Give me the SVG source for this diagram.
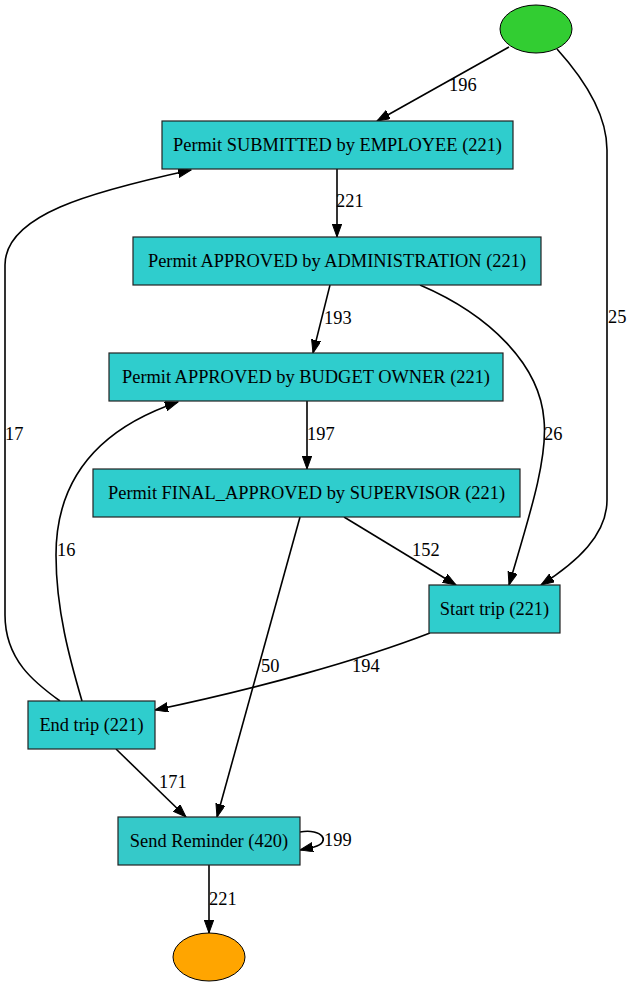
<svg xmlns="http://www.w3.org/2000/svg" width="632" height="987" viewBox="0 0 632 987">
<style>
text{font-family:"Liberation Serif","Times New Roman",serif;font-size:18.4px;fill:#000}
.n text{text-anchor:middle}
.box{fill:#2fcdcd;stroke:#222;stroke-width:1.2}
.box2{fill:#35c9c9;stroke:#222;stroke-width:1.2}
.e path{fill:none;stroke:#000;stroke-width:1.6}
</style>
<defs>
<marker id="ah" markerUnits="userSpaceOnUse" markerWidth="14" markerHeight="10" refX="13" refY="4.7" orient="auto">
<path d="M0,0 L13,4.7 L0,9.4 z" fill="#000" stroke="#000" stroke-width="1"/>
</marker>
</defs>
<rect width="632" height="987" fill="#fff"/>
<g id="edges" class="e">
<path d="M509,47 L377,121" marker-end="url(#ah)"/>
<text x="449" y="91">196</text>
<path d="M557,49 C585,80 607,115 607,150 L607,500 C607,535 577,562 541,585" marker-end="url(#ah)"/>
<text x="608" y="323">25</text>
<path d="M337,169 L337,237" marker-end="url(#ah)"/>
<text x="336" y="207">221</text>
<path d="M330,285 L313,353" marker-end="url(#ah)"/>
<text x="324" y="324">193</text>
<path d="M420,285 C490,315 540,365 544,420 C548,460 528,520 509,585" marker-end="url(#ah)"/>
<text x="544" y="440">26</text>
<path d="M307,401 L307,469" marker-end="url(#ah)"/>
<text x="307" y="440">197</text>
<path d="M344,517 L456,585" marker-end="url(#ah)"/>
<text x="412" y="556">152</text>
<path d="M300,517 L217,817" marker-end="url(#ah)"/>
<text x="261" y="672">50</text>
<path d="M430,633 C360,660 260,688 155,710" marker-end="url(#ah)"/>
<text x="352" y="672">194</text>
<path d="M116,749 L186,817" marker-end="url(#ah)"/>
<text x="159" y="788">171</text>
<path d="M60,701 C35,683 5,660 5,615 L5,265 C5,215 90,192 191,170" marker-end="url(#ah)"/>
<text x="5" y="440">17</text>
<path d="M82,701 C70,660 56,610 56,555 C56,470 110,425 178,402" marker-end="url(#ah)"/>
<text x="57" y="556">16</text>
<path d="M300,832 C322,828 332,842 314,847 L300,850" marker-end="url(#ah)"/>
<text x="324" y="846">199</text>
<path d="M209,865 L209,933" marker-end="url(#ah)"/>
<text x="209" y="905">221</text>
</g>
<g id="start" class="n"><ellipse cx="536" cy="29" rx="36" ry="24" fill="#32cd32" stroke="#000" stroke-width="1"/></g>
<g id="submitted" class="n"><rect class="box" x="162" y="121" width="351" height="48"/><text x="337.5" y="151">Permit SUBMITTED by EMPLOYEE (221)</text></g>
<g id="admin" class="n"><rect class="box" x="133" y="237" width="408" height="48"/><text x="337" y="267">Permit APPROVED by ADMINISTRATION (221)</text></g>
<g id="budget" class="n"><rect class="box" x="109" y="353" width="394" height="48"/><text x="306" y="383">Permit APPROVED by BUDGET OWNER (221)</text></g>
<g id="final" class="n"><rect class="box" x="93" y="469" width="427" height="48"/><text x="306.5" y="499">Permit FINAL_APPROVED by SUPERVISOR (221)</text></g>
<g id="starttrip" class="n"><rect class="box" x="429" y="585" width="131" height="48"/><text x="494.5" y="615">Start trip (221)</text></g>
<g id="endtrip" class="n"><rect class="box" x="28" y="701" width="127" height="48"/><text x="91.5" y="731">End trip (221)</text></g>
<g id="reminder" class="n"><rect class="box2" x="118" y="817" width="182" height="48"/><text x="209" y="847">Send Reminder (420)</text></g>
<g id="end" class="n"><ellipse cx="209" cy="957" rx="36" ry="24" fill="#ffa500" stroke="#000" stroke-width="1"/></g>
</svg>
